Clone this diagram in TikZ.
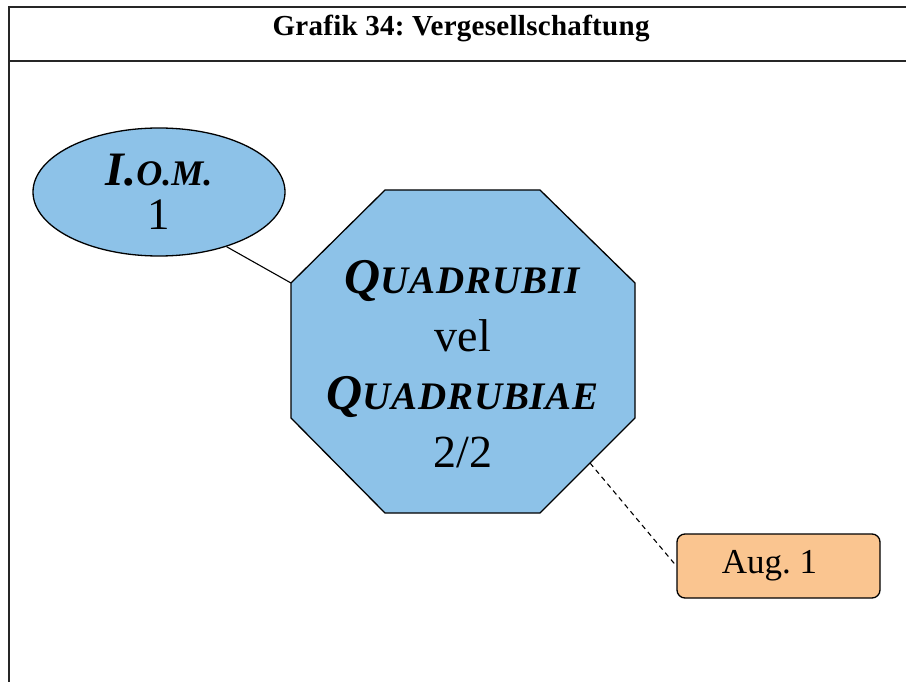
\documentclass[tikz,border=0pt]{standalone}
\usepackage{fontspec}
\setmainfont{Liberation Serif}
\usetikzlibrary{shapes.geometric}
\definecolor{octblue}{RGB}{141,194,232}
\definecolor{augorange}{RGB}{250,197,144}
\newcommand{\bigsc}[2]{\textbf{\textit{{\fontsize{50}{58}\selectfont #1}{\fontsize{39}{58}\selectfont\addfontfeatures{LetterSpace=2}#2}}}}
\frenchspacing
\begin{document}
\begin{tikzpicture}[x=1pt,y=-1pt,
  frame/.style={line width=1.6pt, draw=black!85},
  shapeline/.style={line width=1.3pt, draw=black},
  link/.style={line width=1.1pt, draw=black}]
\useasboundingbox (0,0) rectangle (906,682);
\draw[frame] (906,7) -- (9,7) -- (9,682);
\draw[frame] (9,61) -- (906,61);
\node[anchor=base, font=\bfseries\fontsize{29}{30}\selectfont\addfontfeatures{LetterSpace=1}] (title) at (461,36) {Grafik 34: Vergesellschaftung};
% ellipse
\node[ellipse, shapeline, fill=octblue, minimum width=252pt, minimum height=128pt, inner sep=0pt,
  align=center, font=\fontsize{45}{44}\selectfont] (iom) at (159,192)
  {\textbf{\textit{{\fontsize{48}{44}\selectfont I.}{\fontsize{36}{44}\selectfont O.M.}}}\\1};
% octagon
\draw[shapeline, fill=octblue] (385,190) -- (540,190) -- (635,283) -- (635,418) -- (540,513) -- (385,513) -- (291,418) -- (291,283) -- cycle;
\coordinate (oUL) at (291,283);
\coordinate (oLR) at (590,463);
\node[align=center, font=\fontsize{46}{58}\selectfont] (oct) at (463,364)
  {\bigsc{Q}{UADRUBII}\\vel\\\bigsc{Q}{UADRUBIAE}\\2/2};
% box
\node[shapeline, fill=augorange, rounded corners=8pt, minimum width=203pt, minimum height=64pt, inner sep=0pt,
  font=\fontsize{35}{40}\selectfont] (aug) at (778.5,566) {Aug. 1\hspace*{18pt}};
% connectors
\draw[link] (iom.-39) -- (oUL);
\draw[link, dash pattern=on 5pt off 4pt] (oLR) -- (aug.west);
\end{tikzpicture}
\end{document}
